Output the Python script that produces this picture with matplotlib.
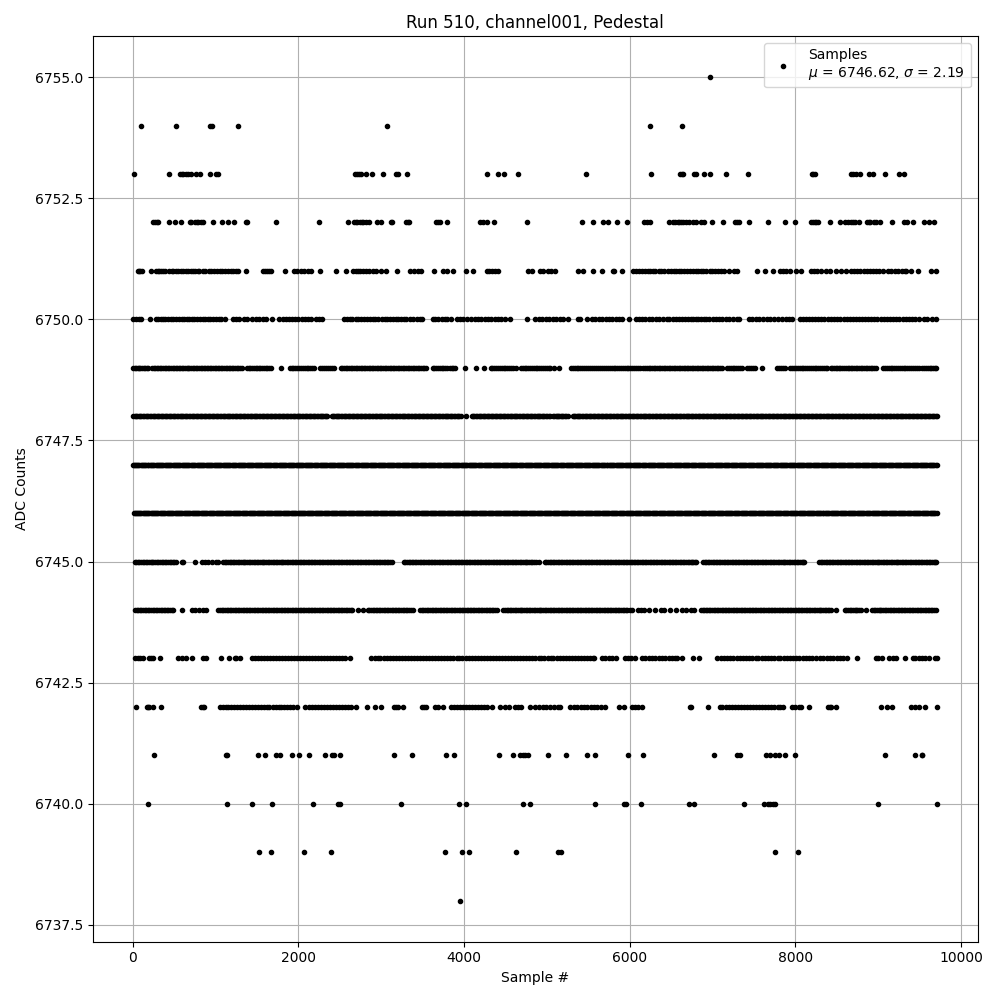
import matplotlib
matplotlib.use("Agg")
import matplotlib.pyplot as plt

s6755 = [6968]
s6754 = [97, 520, 927, 959, 1269, 3071, 6242, 6629]
s6753 = [12, 435, 570, 590, 612, 640, 665, 705, 758, 814, 927, 1000, 1028, 2680, 2705, 2732, 2761, 2813, 2894, 3023, 3176, 3204, 3307, 4280, 4413, 4485, 4654, 5468, 6254, 6609, 6630, 6649, 6780, 6805, 6895, 6968, 7161, 7427, 8200, 8218, 8233, 8676, 8700, 8730, 8777, 8889, 8938, 9083, 9252, 9317]
s6752 = [250, 270, 295, 306, 443, 508, 580, 690, 705, 746, 770, 786, 826, 854, 967, 1076, 1149, 1221, 1370, 1385, 1729, 2249, 2599, 2668, 2690, 2712, 2740, 2762, 2781, 2821, 2853, 2950, 3002, 3115, 3135, 3300, 3325, 3340, 3659, 3690, 3708, 3796, 4191, 4231, 4280, 4364, 4763, 5420, 5553, 5674, 5738, 5843, 5964, 6177, 6206, 6246, 6480, 6520, 6550, 6580, 6600, 6625, 6641, 6681, 6721, 6762, 6802, 6862, 6903, 6991, 7124, 7277, 7300, 7318, 7439, 7668, 7874, 7995, 8192, 8215, 8233, 8255, 8273, 8418, 8535, 8595, 8636, 8676, 8700, 8716, 8769, 8865, 8890, 8906, 8946, 8970, 9018, 9171, 9308, 9349, 9421, 9550, 9611, 9675]
s6751 = [60, 75, 89, 115, 218, 282, 305, 322, 345, 363, 395, 443, 470, 490, 525, 550, 585, 610, 645, 670, 700, 725, 755, 785, 805, 845, 875, 915, 945, 985, 1015, 1055, 1080, 1115, 1145, 1185, 1215, 1250, 1270, 1370, 1572, 1600, 1625, 1650, 1672, 1838, 1942, 1985, 2030, 2070, 2115, 2157, 2257, 2458, 2579, 2660, 2690, 2715, 2745, 2785, 2815, 2850, 2902, 2942, 3002, 3063, 3192, 3345, 3393, 3445, 3486, 3635, 3740, 3796, 3869, 4018, 4111, 4272, 4300, 4335, 4375, 4413, 4776, 4816, 4916, 4956, 5009, 5049, 5101, 5371, 5432, 5553, 5666, 5794, 5815, 5907, 6044, 6075, 6110, 6150, 6180, 6215, 6250, 6285, 6310, 6350, 6380, 6420, 6465, 6495, 6535, 6565, 6600, 6625, 6660, 6695, 6730, 6760, 6795, 6825, 6855, 6890, 6925, 6965, 6995, 7030, 7065, 7100, 7144, 7205, 7265, 7300, 7535, 7632, 7729, 7809, 7850, 7890, 7930, 8011, 8071, 8192, 8225, 8260, 8313, 8374, 8414, 8487, 8555, 8607, 8676, 8710, 8750, 8785, 8825, 8860, 8900, 8935, 8975, 9015, 9060, 9119, 9159, 9200, 9240, 9285, 9321, 9341, 9401, 9482, 9643, 9695]
s6750 = [5, 35, 70, 105, 205, 275, 300, 335, 370, 395, 430, 465, 490, 525, 555, 590, 620, 650, 680, 715, 745, 775, 810, 845, 870, 905, 935, 970, 1005, 1040, 1065, 1108, 1215, 1250, 1285, 1345, 1380, 1440, 1490, 1525, 1570, 1610, 1680, 1770, 1810, 1845, 1885, 1925, 1960, 2000, 2045, 2080, 2120, 2150, 2215, 2250, 2285, 2550, 2585, 2620, 2650, 2690, 2725, 2755, 2795, 2830, 2860, 2895, 2930, 2965, 3005, 3040, 3070, 3105, 3140, 3175, 3205, 3240, 3275, 3305, 3345, 3385, 3430, 3470, 3495, 3620, 3655, 3690, 3730, 3765, 3800, 3840, 3920, 3950, 3990, 4040, 4085, 4130, 4170, 4210, 4250, 4290, 4330, 4370, 4410, 4450, 4500, 4554, 4763, 4860, 4900, 4945, 4990, 5030, 5075, 5115, 5160, 5200, 5260, 5371, 5395, 5480, 5540, 5585, 5630, 5670, 5715, 5755, 5790, 5835, 5875, 5905, 5988, 6075, 6110, 6150, 6190, 6230, 6275, 6320, 6350, 6405, 6445, 6480, 6520, 6560, 6595, 6630, 6665, 6700, 6735, 6770, 6800, 6830, 6860, 6895, 6925, 6960, 7000, 7040, 7075, 7115, 7160, 7205, 7250, 7290, 7320, 7435, 7475, 7520, 7565, 7610, 7655, 7700, 7740, 7795, 7840, 7885, 7925, 7965, 8060, 8095, 8130, 8170, 8205, 8240, 8275, 8310, 8350, 8390, 8430, 8470, 8505, 8545, 8585, 8620, 8655, 8695, 8730, 8765, 8805, 8840, 8875, 8915, 8950, 8990, 9030, 9065, 9105, 9140, 9180, 9220, 9255, 9295, 9335, 9375, 9410, 9450, 9495, 9550, 9595, 9645, 9695]
s6749 = [5, 22, 40, 58, 75, 92, 110, 130, 150, 170, 190, 235, 252, 270, 290, 310, 328, 345, 365, 385, 402, 420, 440, 460, 480, 500, 518, 535, 555, 575, 592, 610, 630, 650, 668, 685, 705, 725, 742, 760, 780, 800, 818, 835, 855, 875, 892, 910, 930, 950, 970, 990, 1008, 1025, 1045, 1065, 1082, 1100, 1120, 1140, 1158, 1175, 1195, 1215, 1235, 1255, 1272, 1290, 1320, 1380, 1400, 1420, 1440, 1460, 1482, 1505, 1522, 1540, 1562, 1585, 1605, 1625, 1648, 1670, 1789, 1900, 1920, 1940, 1962, 1985, 2008, 2030, 2052, 2075, 2098, 2120, 2140, 2160, 2190, 2265, 2288, 2310, 2332, 2355, 2378, 2400, 2430, 2510, 2530, 2550, 2570, 2590, 2610, 2630, 2650, 2670, 2690, 2710, 2730, 2750, 2770, 2790, 2810, 2830, 2850, 2870, 2888, 2905, 2925, 2945, 2965, 2985, 3002, 3020, 3040, 3060, 3080, 3100, 3120, 3140, 3160, 3180, 3200, 3220, 3240, 3260, 3280, 3300, 3320, 3340, 3360, 3380, 3400, 3420, 3440, 3460, 3480, 3500, 3518, 3535, 3620, 3642, 3665, 3688, 3710, 3730, 3750, 3775, 3800, 3825, 3850, 3872, 3895, 4014, 4143, 4240, 4320, 4342, 4365, 4388, 4410, 4432, 4455, 4478, 4500, 4522, 4545, 4568, 4590, 4625, 4685, 4708, 4730, 4752, 4775, 4798, 4820, 4842, 4865, 4885, 4905, 4928, 4950, 4975, 5000, 5020, 5040, 5089, 5150, 5290, 5312, 5335, 5358, 5380, 5405, 5430, 5452, 5475, 5498, 5520, 5545, 5570, 5592, 5615, 5638, 5660, 5685, 5710, 5735, 5760, 5782, 5805, 5828, 5850, 5872, 5895, 5918, 5940, 5962, 5985, 6008, 6030, 6052, 6075, 6100, 6125, 6165, 6185, 6205, 6228, 6250, 6270, 6290, 6310, 6330, 6350, 6370, 6390, 6410, 6430, 6450, 6470, 6490, 6510, 6530, 6550, 6570, 6590, 6610, 6630, 6650, 6670, 6690, 6710, 6730, 6750, 6770, 6790, 6810, 6830, 6850, 6870, 6890, 6910, 6930, 6950, 6970, 6990, 7010, 7030, 7050, 7070, 7090, 7115, 7175, 7198, 7220, 7242, 7265, 7288, 7310, 7332, 7355, 7415, 7438, 7460, 7488, 7515, 7596, 7780, 7802, 7825, 7852, 7880, 7940, 7962, 7985, 8008, 8030, 8052, 8075, 8098, 8120, 8142, 8165, 8188, 8210, 8232, 8255, 8278, 8300, 8322, 8345, 8365, 8385, 8425, 8445, 8465, 8485, 8505, 8525, 8545, 8568, 8590, 8610, 8630, 8650, 8670, 8690, 8710, 8730, 8750, 8770, 8790, 8810, 8830, 8850, 8870, 8890, 8910, 8928, 8945, 8970, 9060, 9082, 9105, 9128, 9150, 9172, 9195, 9218, 9240, 9262, 9285, 9308, 9330, 9352, 9375, 9398, 9420, 9442, 9465, 9495, 9530, 9552, 9575, 9598, 9620, 9642, 9665, 9682, 9700]
s6748 = [5, 40, 70, 105, 140, 170, 205, 240, 270, 305, 335, 370, 400, 435, 465, 500, 530, 565, 595, 630, 660, 695, 725, 760, 790, 825, 855, 890, 920, 955, 985, 1020, 1050, 1085, 1115, 1150, 1180, 1215, 1245, 1280, 1310, 1345, 1375, 1410, 1440, 1475, 1505, 1540, 1570, 1605, 1635, 1670, 1700, 1735, 1765, 1800, 1830, 1865, 1895, 1930, 1960, 1995, 2025, 2060, 2090, 2125, 2155, 2190, 2220, 2255, 2285, 2320, 2350, 2400, 2430, 2465, 2495, 2530, 2560, 2595, 2625, 2660, 2690, 2725, 2755, 2790, 2820, 2855, 2885, 2920, 2950, 2985, 3015, 3050, 3080, 3115, 3145, 3180, 3210, 3245, 3275, 3310, 3340, 3375, 3405, 3440, 3470, 3505, 3535, 3570, 3600, 3635, 3665, 3700, 3730, 3765, 3795, 3830, 3860, 3895, 3925, 3960, 4020, 4095, 4125, 4160, 4190, 4225, 4255, 4290, 4320, 4355, 4385, 4420, 4450, 4485, 4515, 4550, 4580, 4615, 4645, 4680, 4710, 4745, 4775, 4810, 4840, 4875, 4905, 4940, 4970, 5005, 5035, 5075, 5105, 5135, 5165, 5200, 5230, 5255, 5310, 5340, 5375, 5405, 5440, 5470, 5505, 5535, 5570, 5600, 5635, 5665, 5700, 5730, 5765, 5795, 5830, 5860, 5895, 5925, 5960, 5990, 6025, 6055, 6090, 6120, 6155, 6185, 6220, 6250, 6285, 6315, 6350, 6380, 6415, 6445, 6480, 6510, 6545, 6575, 6610, 6640, 6675, 6705, 6740, 6770, 6805, 6835, 6870, 6900, 6935, 6965, 7000, 7030, 7065, 7095, 7130, 7160, 7195, 7225, 7260, 7290, 7325, 7355, 7390, 7420, 7455, 7485, 7520, 7550, 7585, 7615, 7650, 7680, 7715, 7745, 7780, 7810, 7845, 7875, 7910, 7940, 7975, 8005, 8040, 8070, 8105, 8135, 8170, 8200, 8235, 8265, 8300, 8330, 8365, 8395, 8430, 8460, 8495, 8525, 8560, 8590, 8625, 8655, 8690, 8720, 8755, 8785, 8820, 8850, 8885, 8915, 8950, 8980, 9015, 9045, 9080, 9110, 9145, 9175, 9210, 9240, 9275, 9305, 9340, 9370, 9405, 9435, 9470, 9500, 9535, 9565, 9600, 9630, 9665, 9695, 22, 55, 88, 122, 155, 188, 222, 255, 288, 320, 352, 385, 418, 450, 482, 515, 548, 580, 612, 645, 678, 710, 742, 775, 808, 840, 872, 905, 938, 970, 1002, 1035, 1068, 1100, 1132, 1165, 1198, 1230, 1262, 1295, 1328, 1360, 1392, 1425, 1458, 1490, 1522, 1555, 1588, 1620, 1652, 1685, 1718, 1750, 1782, 1815, 1848, 1880, 1912, 1945, 1978, 2010, 2042, 2075, 2108, 2140, 2172, 2205, 2238, 2270, 2302, 2335, 2415, 2448, 2480, 2512, 2545, 2578, 2610, 2642, 2675, 2708, 2740, 2772, 2805, 2838, 2870, 2902, 2935, 2968, 3000, 3032, 3065, 3098, 3130, 3162, 3195, 3228, 3260, 3292, 3325, 3358, 3390, 3422, 3455, 3488, 3520, 3552, 3585, 3618, 3650, 3682, 3715, 3748, 3780, 3812, 3845, 3878, 3910, 3942, 4110, 4142, 4175, 4208, 4240, 4272, 4305, 4338, 4370, 4402, 4435, 4468, 4500, 4532, 4565, 4598, 4630, 4662, 4695, 4728, 4760, 4792, 4825, 4858, 4890, 4922, 4955, 4988, 5020, 5090, 5120, 5150, 5182, 5215, 5325, 5358, 5390, 5422, 5455, 5488, 5520, 5552, 5585, 5618, 5650, 5682, 5715, 5748, 5780, 5812, 5845, 5878, 5910, 5942, 5975, 6008, 6040, 6072, 6105, 6138, 6170, 6202, 6235, 6268, 6300, 6332, 6365, 6398, 6430, 6462, 6495, 6528, 6560, 6592, 6625, 6658, 6690, 6722, 6755, 6788, 6820, 6852, 6885, 6918, 6950, 6982, 7015, 7048, 7080, 7112, 7145, 7178, 7210, 7242, 7275, 7308, 7340, 7372, 7405, 7438, 7470, 7502, 7535, 7568, 7600, 7632, 7665, 7698, 7730, 7762, 7795, 7828, 7860, 7892, 7925, 7958, 7990, 8022, 8055, 8088, 8120, 8152, 8185, 8218, 8250, 8282, 8315, 8348, 8380, 8412, 8445, 8478, 8510, 8542, 8575, 8608, 8640, 8672, 8705, 8738, 8770, 8802, 8835, 8868, 8900, 8932, 8965, 8998, 9030, 9062, 9095, 9128, 9160, 9192, 9225, 9258, 9290, 9322, 9355, 9388, 9420, 9452, 9485, 9518, 9550, 9582, 9615, 9648, 9680, 9705]
s6747 = [0, 25, 55, 80, 110, 135, 165, 190, 220, 245, 275, 300, 330, 355, 385, 410, 440, 465, 495, 520, 550, 575, 605, 630, 660, 685, 715, 740, 770, 795, 825, 850, 880, 905, 935, 960, 990, 1015, 1045, 1070, 1100, 1125, 1155, 1180, 1210, 1235, 1265, 1290, 1320, 1345, 1375, 1400, 1430, 1455, 1485, 1510, 1540, 1565, 1595, 1620, 1650, 1675, 1705, 1730, 1760, 1785, 1815, 1840, 1870, 1895, 1925, 1950, 1980, 2005, 2035, 2060, 2090, 2115, 2145, 2170, 2200, 2225, 2255, 2280, 2310, 2335, 2365, 2390, 2420, 2445, 2475, 2500, 2530, 2555, 2585, 2610, 2640, 2665, 2695, 2720, 2750, 2775, 2805, 2830, 2860, 2885, 2915, 2940, 2970, 2995, 3025, 3050, 3080, 3105, 3135, 3160, 3190, 3215, 3245, 3270, 3300, 3325, 3355, 3380, 3410, 3435, 3465, 3490, 3520, 3545, 3575, 3600, 3630, 3655, 3685, 3710, 3740, 3765, 3795, 3820, 3850, 3875, 3905, 3930, 3960, 3985, 4015, 4040, 4070, 4095, 4125, 4150, 4180, 4205, 4235, 4260, 4290, 4315, 4345, 4370, 4400, 4425, 4455, 4480, 4510, 4535, 4565, 4590, 4620, 4645, 4675, 4700, 4730, 4755, 4785, 4810, 4840, 4865, 4895, 4920, 4950, 4975, 5005, 5030, 5060, 5085, 5115, 5140, 5170, 5195, 5225, 5250, 5280, 5305, 5335, 5360, 5390, 5415, 5445, 5470, 5500, 5525, 5555, 5580, 5610, 5635, 5665, 5690, 5720, 5745, 5775, 5800, 5830, 5855, 5885, 5910, 5940, 5965, 5995, 6020, 6050, 6075, 6105, 6130, 6160, 6185, 6215, 6240, 6270, 6295, 6325, 6350, 6380, 6405, 6435, 6460, 6490, 6515, 6545, 6570, 6600, 6625, 6655, 6680, 6710, 6735, 6765, 6790, 6820, 6845, 6875, 6900, 6930, 6955, 6985, 7010, 7040, 7065, 7095, 7120, 7150, 7175, 7205, 7230, 7260, 7285, 7315, 7340, 7370, 7395, 7425, 7450, 7480, 7505, 7535, 7560, 7590, 7615, 7645, 7670, 7700, 7725, 7755, 7780, 7810, 7835, 7865, 7890, 7920, 7945, 7975, 8000, 8030, 8055, 8085, 8110, 8140, 8165, 8195, 8220, 8250, 8275, 8305, 8330, 8360, 8385, 8415, 8440, 8470, 8495, 8525, 8550, 8580, 8605, 8635, 8660, 8690, 8715, 8745, 8770, 8800, 8825, 8855, 8880, 8910, 8935, 8965, 8990, 9020, 9045, 9075, 9100, 9130, 9155, 9185, 9210, 9240, 9265, 9295, 9320, 9350, 9375, 9405, 9430, 9460, 9485, 9515, 9540, 9570, 9595, 9625, 9650, 9680, 9710, 12, 40, 68, 95, 122, 150, 178, 205, 232, 260, 288, 315, 342, 370, 398, 425, 452, 480, 508, 535, 562, 590, 618, 645, 672, 700, 728, 755, 782, 810, 838, 865, 892, 920, 948, 975, 1002, 1030, 1058, 1085, 1112, 1140, 1168, 1195, 1222, 1250, 1278, 1305, 1332, 1360, 1388, 1415, 1442, 1470, 1498, 1525, 1552, 1580, 1608, 1635, 1662, 1690, 1718, 1745, 1772, 1800, 1828, 1855, 1882, 1910, 1938, 1965, 1992, 2020, 2048, 2075, 2102, 2130, 2158, 2185, 2212, 2240, 2268, 2295, 2322, 2350, 2378, 2405, 2432, 2460, 2488, 2515, 2542, 2570, 2598, 2625, 2652, 2680, 2708, 2735, 2762, 2790, 2818, 2845, 2872, 2900, 2928, 2955, 2982, 3010, 3038, 3065, 3092, 3120, 3148, 3175, 3202, 3230, 3258, 3285, 3312, 3340, 3368, 3395, 3422, 3450, 3478, 3505, 3532, 3560, 3588, 3615, 3642, 3670, 3698, 3725, 3752, 3780, 3808, 3835, 3862, 3890, 3918, 3945, 3972, 4000, 4028, 4055, 4082, 4110, 4138, 4165, 4192, 4220, 4248, 4275, 4302, 4330, 4358, 4385, 4412, 4440, 4468, 4495, 4522, 4550, 4578, 4605, 4632, 4660, 4688, 4715, 4742, 4770, 4798, 4825, 4852, 4880, 4908, 4935, 4962, 4990, 5018, 5045, 5072, 5100, 5128, 5155, 5182, 5210, 5238, 5265, 5292, 5320, 5348, 5375, 5402, 5430, 5458, 5485, 5512, 5540, 5568, 5595, 5622, 5650, 5678, 5705, 5732, 5760, 5788, 5815, 5842, 5870, 5898, 5925, 5952, 5980, 6008, 6035, 6062, 6090, 6118, 6145, 6172, 6200, 6228, 6255, 6282, 6310, 6338, 6365, 6392, 6420, 6448, 6475, 6502, 6530, 6558, 6585, 6612, 6640, 6668, 6695, 6722, 6750, 6778, 6805, 6832, 6860, 6888, 6915, 6942, 6970, 6998, 7025, 7052, 7080, 7108, 7135, 7162, 7190, 7218, 7245, 7272, 7300, 7328, 7355, 7382, 7410, 7438, 7465, 7492, 7520, 7548, 7575, 7602, 7630, 7658, 7685, 7712, 7740, 7768, 7795, 7822, 7850, 7878, 7905, 7932, 7960, 7988, 8015, 8042, 8070, 8098, 8125, 8152, 8180, 8208, 8235, 8262, 8290, 8318, 8345, 8372, 8400, 8428, 8455, 8482, 8510, 8538, 8565, 8592, 8620, 8648, 8675, 8702, 8730, 8758, 8785, 8812, 8840, 8868, 8895, 8922, 8950, 8978, 9005, 9032, 9060, 9088, 9115, 9142, 9170, 9198, 9225, 9252, 9280, 9308, 9335, 9362, 9390, 9418, 9445, 9472, 9500, 9528, 9555, 9582, 9610, 9638, 9665, 9695]
s6746 = [10, 35, 65, 90, 120, 145, 175, 200, 230, 255, 285, 310, 340, 365, 395, 420, 450, 475, 505, 530, 560, 585, 615, 640, 670, 695, 725, 750, 780, 805, 835, 860, 890, 915, 945, 970, 1000, 1025, 1055, 1080, 1110, 1135, 1165, 1190, 1220, 1245, 1275, 1300, 1330, 1355, 1385, 1410, 1440, 1465, 1495, 1520, 1550, 1575, 1605, 1630, 1660, 1685, 1715, 1740, 1770, 1795, 1825, 1850, 1880, 1905, 1935, 1960, 1990, 2015, 2045, 2070, 2100, 2125, 2155, 2180, 2210, 2235, 2265, 2290, 2320, 2345, 2375, 2400, 2430, 2455, 2485, 2510, 2540, 2565, 2595, 2620, 2650, 2675, 2705, 2730, 2760, 2785, 2815, 2840, 2870, 2895, 2925, 2950, 2980, 3005, 3035, 3060, 3090, 3115, 3145, 3170, 3200, 3225, 3255, 3280, 3310, 3335, 3365, 3390, 3420, 3445, 3475, 3500, 3530, 3555, 3585, 3610, 3640, 3665, 3695, 3720, 3750, 3775, 3805, 3830, 3860, 3885, 3915, 3940, 3970, 3995, 4025, 4050, 4080, 4105, 4135, 4160, 4190, 4215, 4245, 4270, 4300, 4325, 4355, 4380, 4410, 4435, 4465, 4490, 4520, 4545, 4575, 4600, 4630, 4655, 4685, 4710, 4740, 4765, 4795, 4820, 4850, 4875, 4905, 4930, 4960, 4985, 5015, 5040, 5070, 5095, 5125, 5150, 5180, 5205, 5235, 5260, 5290, 5315, 5345, 5370, 5400, 5425, 5455, 5480, 5510, 5535, 5565, 5590, 5620, 5645, 5675, 5700, 5730, 5755, 5785, 5810, 5840, 5865, 5895, 5920, 5950, 5975, 6005, 6030, 6060, 6085, 6115, 6140, 6170, 6195, 6225, 6250, 6280, 6305, 6335, 6360, 6390, 6415, 6445, 6470, 6500, 6525, 6555, 6580, 6610, 6635, 6665, 6690, 6720, 6745, 6775, 6800, 6830, 6855, 6885, 6910, 6940, 6965, 6995, 7020, 7050, 7075, 7105, 7130, 7160, 7185, 7215, 7240, 7270, 7295, 7325, 7350, 7380, 7405, 7435, 7460, 7490, 7515, 7545, 7570, 7600, 7625, 7655, 7680, 7710, 7735, 7765, 7790, 7820, 7845, 7875, 7900, 7930, 7955, 7985, 8010, 8040, 8065, 8095, 8120, 8150, 8175, 8205, 8230, 8260, 8285, 8315, 8340, 8370, 8395, 8425, 8450, 8480, 8505, 8535, 8560, 8590, 8615, 8645, 8670, 8700, 8725, 8755, 8780, 8810, 8835, 8865, 8890, 8920, 8945, 8975, 9000, 9030, 9055, 9085, 9110, 9140, 9165, 9195, 9220, 9250, 9275, 9305, 9330, 9360, 9385, 9415, 9440, 9470, 9495, 9525, 9550, 9580, 9605, 9635, 9660, 9690, 9705, 22, 50, 78, 105, 132, 160, 188, 215, 242, 270, 298, 325, 352, 380, 408, 435, 462, 490, 518, 545, 572, 600, 628, 655, 682, 710, 738, 765, 792, 820, 848, 875, 902, 930, 958, 985, 1012, 1040, 1068, 1095, 1122, 1150, 1178, 1205, 1232, 1260, 1288, 1315, 1342, 1370, 1398, 1425, 1452, 1480, 1508, 1535, 1562, 1590, 1618, 1645, 1672, 1700, 1728, 1755, 1782, 1810, 1838, 1865, 1892, 1920, 1948, 1975, 2002, 2030, 2058, 2085, 2112, 2140, 2168, 2195, 2222, 2250, 2278, 2305, 2332, 2360, 2388, 2415, 2442, 2470, 2498, 2525, 2552, 2580, 2608, 2635, 2662, 2690, 2718, 2745, 2772, 2800, 2828, 2855, 2882, 2910, 2938, 2965, 2992, 3020, 3048, 3075, 3102, 3130, 3158, 3185, 3212, 3240, 3268, 3295, 3322, 3350, 3378, 3405, 3432, 3460, 3488, 3515, 3542, 3570, 3598, 3625, 3652, 3680, 3708, 3735, 3762, 3790, 3818, 3845, 3872, 3900, 3928, 3955, 3982, 4010, 4038, 4065, 4092, 4120, 4148, 4175, 4202, 4230, 4258, 4285, 4312, 4340, 4368, 4395, 4422, 4450, 4478, 4505, 4532, 4560, 4588, 4615, 4642, 4670, 4698, 4725, 4752, 4780, 4808, 4835, 4862, 4890, 4918, 4945, 4972, 5000, 5028, 5055, 5082, 5110, 5138, 5165, 5192, 5220, 5248, 5275, 5302, 5330, 5358, 5385, 5412, 5440, 5468, 5495, 5522, 5550, 5578, 5605, 5632, 5660, 5688, 5715, 5742, 5770, 5798, 5825, 5852, 5880, 5908, 5935, 5962, 5990, 6018, 6045, 6072, 6100, 6128, 6155, 6182, 6210, 6238, 6265, 6292, 6320, 6348, 6375, 6402, 6430, 6458, 6485, 6512, 6540, 6568, 6595, 6622, 6650, 6678, 6705, 6732, 6760, 6788, 6815, 6842, 6870, 6898, 6925, 6952, 6980, 7008, 7035, 7062, 7090, 7118, 7145, 7172, 7200, 7228, 7255, 7282, 7310, 7338, 7365, 7392, 7420, 7448, 7475, 7502, 7530, 7558, 7585, 7612, 7640, 7668, 7695, 7722, 7750, 7778, 7805, 7832, 7860, 7888, 7915, 7942, 7970, 7998, 8025, 8052, 8080, 8108, 8135, 8162, 8190, 8218, 8245, 8272, 8300, 8328, 8355, 8382, 8410, 8438, 8465, 8492, 8520, 8548, 8575, 8602, 8630, 8658, 8685, 8712, 8740, 8768, 8795, 8822, 8850, 8878, 8905, 8932, 8960, 8988, 9015, 9042, 9070, 9098, 9125, 9152, 9180, 9208, 9235, 9262, 9290, 9318, 9345, 9372, 9400, 9428, 9455, 9482, 9510, 9538, 9565, 9592, 9620, 9648, 9675]
s6745 = [22, 60, 100, 135, 175, 215, 250, 290, 330, 365, 405, 445, 480, 520, 590, 610, 750, 830, 870, 910, 960, 1005, 1035, 1095, 1130, 1170, 1210, 1245, 1285, 1325, 1360, 1400, 1440, 1475, 1515, 1555, 1590, 1630, 1670, 1705, 1745, 1785, 1820, 1860, 1900, 1935, 1975, 2015, 2050, 2090, 2130, 2165, 2205, 2245, 2280, 2320, 2360, 2395, 2435, 2475, 2510, 2550, 2590, 2625, 2665, 2705, 2740, 2780, 2820, 2855, 2895, 2935, 2970, 3010, 3050, 3085, 3135, 3272, 3310, 3350, 3385, 3425, 3465, 3500, 3540, 3580, 3615, 3655, 3695, 3730, 3770, 3810, 3845, 3885, 3925, 3960, 4000, 4040, 4075, 4115, 4155, 4190, 4230, 4270, 4305, 4345, 4385, 4420, 4460, 4500, 4535, 4575, 4615, 4650, 4690, 4730, 4765, 4805, 4840, 4900, 4975, 5015, 5050, 5090, 5130, 5165, 5205, 5245, 5280, 5320, 5360, 5395, 5435, 5475, 5510, 5550, 5590, 5625, 5665, 5705, 5740, 5780, 5820, 5855, 5895, 5935, 5970, 6010, 6050, 6085, 6125, 6165, 6200, 6240, 6280, 6315, 6355, 6395, 6430, 6470, 6510, 6545, 6585, 6625, 6660, 6700, 6740, 6770, 6805, 6885, 6925, 6960, 7000, 7040, 7075, 7115, 7155, 7190, 7230, 7270, 7305, 7345, 7385, 7420, 7460, 7500, 7535, 7575, 7615, 7650, 7690, 7730, 7765, 7805, 7845, 7880, 7920, 7960, 7995, 8035, 8075, 8105, 8288, 8325, 8365, 8405, 8440, 8480, 8520, 8555, 8595, 8635, 8670, 8710, 8750, 8785, 8825, 8865, 8900, 8940, 8980, 9015, 9055, 9095, 9130, 9170, 9210, 9245, 9285, 9325, 9360, 9400, 9440, 9475, 9515, 9555, 9590, 9630, 9670, 9700, 42, 80, 118, 155, 195, 232, 270, 310, 348, 385, 425, 462, 500, 1112, 1150, 1190, 1228, 1265, 1305, 1342, 1380, 1420, 1458, 1495, 1535, 1572, 1610, 1650, 1688, 1725, 1765, 1802, 1840, 1880, 1918, 1955, 1995, 2032, 2070, 2110, 2148, 2185, 2225, 2262, 2300, 2340, 2378, 2415, 2455, 2492, 2530, 2570, 2608, 2645, 2685, 2722, 2760, 2800, 2838, 2875, 2915, 2952, 2990, 3030, 3068, 3110, 3290, 3330, 3368, 3405, 3445, 3482, 3520, 3560, 3598, 3635, 3675, 3712, 3750, 3790, 3828, 3865, 3905, 3942, 3980, 4020, 4058, 4095, 4135, 4172, 4210, 4250, 4288, 4325, 4365, 4402, 4440, 4480, 4518, 4555, 4595, 4632, 4670, 4710, 4748, 4785, 4825, 4870, 4995, 5032, 5070, 5110, 5148, 5185, 5225, 5262, 5300, 5340, 5378, 5415, 5455, 5492, 5530, 5570, 5608, 5645, 5685, 5722, 5760, 5800, 5838, 5875, 5915, 5952, 5990, 6030, 6068, 6105, 6145, 6182, 6220, 6260, 6298, 6335, 6375, 6412, 6450, 6490, 6528, 6565, 6605, 6642, 6680, 6720, 6755, 6785, 6905, 6942, 6980, 7020, 7058, 7095, 7135, 7172, 7210, 7250, 7288, 7325, 7365, 7402, 7440, 7480, 7518, 7555, 7595, 7632, 7670, 7710, 7748, 7785, 7825, 7862, 7900, 7940, 7978, 8015, 8055, 8090, 8305, 8345, 8385, 8422, 8460, 8500, 8538, 8575, 8615, 8652, 8690, 8730, 8768, 8805, 8845, 8882, 8920, 8960, 8998, 9035, 9075, 9112, 9150, 9190, 9228, 9265, 9305, 9342, 9380, 9420, 9458, 9495, 9535, 9572, 9610, 9650, 9685]
s6744 = [30, 65, 105, 145, 180, 220, 260, 295, 335, 375, 410, 450, 490, 596, 715, 750, 800, 845, 885, 1035, 1075, 1115, 1150, 1190, 1230, 1265, 1305, 1345, 1380, 1420, 1460, 1495, 1535, 1575, 1610, 1650, 1690, 1725, 1765, 1805, 1840, 1880, 1920, 1955, 1995, 2035, 2070, 2110, 2150, 2185, 2225, 2265, 2300, 2340, 2380, 2415, 2455, 2495, 2530, 2570, 2610, 2650, 2720, 2781, 2835, 2875, 2915, 2950, 2990, 3030, 3065, 3105, 3145, 3180, 3220, 3260, 3295, 3335, 3380, 3470, 3510, 3550, 3590, 3625, 3665, 3705, 3740, 3780, 3820, 3855, 3895, 3935, 3970, 4010, 4050, 4085, 4125, 4165, 4200, 4240, 4280, 4315, 4355, 4400, 4475, 4515, 4555, 4590, 4630, 4670, 4705, 4745, 4785, 4820, 4860, 4900, 4935, 4975, 5015, 5050, 5090, 5130, 5165, 5205, 5245, 5280, 5320, 5360, 5395, 5435, 5475, 5510, 5550, 5590, 5625, 5665, 5705, 5740, 5780, 5820, 5855, 5895, 5935, 5970, 6030, 6095, 6135, 6175, 6235, 6302, 6375, 6420, 6488, 6560, 6630, 6680, 6740, 6780, 6860, 6900, 6935, 6975, 7015, 7050, 7090, 7130, 7165, 7205, 7245, 7280, 7320, 7360, 7395, 7435, 7475, 7510, 7550, 7590, 7625, 7665, 7705, 7740, 7780, 7820, 7855, 7895, 7935, 7970, 8010, 8050, 8085, 8125, 8165, 8200, 8240, 8280, 8315, 8355, 8395, 8430, 8490, 8595, 8635, 8675, 8715, 8750, 8790, 8855, 8925, 8965, 9005, 9040, 9080, 9120, 9155, 9195, 9235, 9270, 9310, 9350, 9385, 9425, 9465, 9500, 9540, 9580, 9615, 9655, 9695, 48, 85, 125, 162, 200, 240, 278, 315, 355, 392, 430, 470, 1055, 1095, 1132, 1170, 1210, 1248, 1285, 1325, 1362, 1400, 1440, 1478, 1515, 1555, 1592, 1630, 1670, 1708, 1745, 1785, 1822, 1860, 1900, 1938, 1975, 2015, 2052, 2090, 2130, 2168, 2205, 2245, 2282, 2320, 2360, 2398, 2435, 2475, 2512, 2550, 2590, 2630, 2855, 2895, 2932, 2970, 3010, 3048, 3085, 3125, 3162, 3200, 3240, 3278, 3315, 3355, 3490, 3530, 3570, 3608, 3645, 3685, 3722, 3760, 3800, 3838, 3875, 3915, 3952, 3990, 4030, 4068, 4105, 4145, 4182, 4220, 4260, 4298, 4335, 4378, 4495, 4535, 4572, 4610, 4650, 4688, 4725, 4765, 4802, 4840, 4880, 4918, 4955, 4995, 5032, 5070, 5110, 5148, 5185, 5225, 5262, 5300, 5340, 5378, 5415, 5455, 5492, 5530, 5570, 5608, 5645, 5685, 5722, 5760, 5800, 5838, 5875, 5915, 5952, 6000, 6880, 6918, 6955, 6995, 7032, 7070, 7110, 7148, 7185, 7225, 7262, 7300, 7340, 7378, 7415, 7455, 7492, 7530, 7570, 7608, 7645, 7685, 7722, 7760, 7800, 7838, 7875, 7915, 7952, 7990, 8030, 8068, 8105, 8145, 8182, 8220, 8260, 8298, 8335, 8375, 8412, 8615, 8655, 8695, 8732, 8770, 8945, 8985, 9022, 9060, 9100, 9138, 9175, 9215, 9252, 9290, 9330, 9368, 9405, 9445, 9482, 9520, 9560, 9598, 9635, 9675]
s6743 = [28, 60, 85, 121, 193, 225, 242, 330, 552, 596, 645, 713, 846, 879, 1060, 1160, 1230, 1249, 1290, 1435, 1475, 1510, 1545, 1580, 1620, 1655, 1690, 1725, 1765, 1800, 1835, 1870, 1910, 1945, 1980, 2015, 2055, 2090, 2125, 2160, 2200, 2235, 2270, 2305, 2345, 2380, 2415, 2450, 2490, 2525, 2560, 2628, 2880, 2920, 2955, 2990, 3030, 3065, 3100, 3140, 3175, 3210, 3250, 3285, 3320, 3360, 3395, 3430, 3470, 3505, 3540, 3580, 3615, 3650, 3690, 3725, 3760, 3800, 3835, 3870, 3910, 3945, 3980, 4020, 4055, 4090, 4130, 4165, 4200, 4240, 4275, 4310, 4350, 4385, 4420, 4460, 4495, 4530, 4570, 4605, 4640, 4680, 4715, 4750, 4790, 4825, 4860, 4900, 4935, 4970, 5010, 5045, 5080, 5120, 5155, 5190, 5230, 5265, 5300, 5340, 5375, 5410, 5450, 5485, 5520, 5560, 5575, 5665, 5705, 5745, 5785, 5835, 5940, 5975, 6015, 6060, 6150, 6190, 6230, 6270, 6310, 6350, 6390, 6430, 6470, 6510, 6550, 6575, 6629, 6770, 6842, 7060, 7100, 7140, 7175, 7215, 7250, 7290, 7330, 7365, 7405, 7440, 7480, 7520, 7555, 7595, 7630, 7670, 7710, 7745, 7785, 7820, 7860, 7900, 7935, 7975, 8010, 8050, 8090, 8125, 8165, 8205, 8250, 8300, 8340, 8380, 8420, 8460, 8500, 8540, 8580, 8625, 8744, 8975, 9000, 9045, 9135, 9175, 9215, 9325, 9415, 9450, 9490, 9530, 9570, 9610, 9683, 9710]
s6742 = [36, 169, 190, 201, 242, 339, 826, 850, 866, 1050, 1085, 1120, 1155, 1190, 1225, 1260, 1295, 1330, 1365, 1400, 1440, 1475, 1510, 1545, 1580, 1615, 1650, 1690, 1725, 1760, 1795, 1830, 1865, 1900, 1940, 1980, 2085, 2125, 2160, 2195, 2235, 2270, 2305, 2340, 2380, 2415, 2450, 2490, 2525, 2560, 2600, 2640, 2690, 2829, 2926, 3002, 3151, 3175, 3204, 3264, 3498, 3520, 3546, 3647, 3687, 3748, 3840, 3875, 3910, 3950, 3985, 4020, 4060, 4095, 4130, 4170, 4205, 4240, 4280, 4340, 4433, 4493, 4546, 4614, 4650, 4690, 4796, 4856, 4905, 4950, 4990, 5040, 5090, 5135, 5160, 5285, 5325, 5365, 5410, 5450, 5490, 5530, 5570, 5610, 5650, 5700, 5867, 5936, 6030, 6065, 6100, 6150, 6725, 6741, 6943, 7085, 7120, 7160, 7195, 7230, 7270, 7305, 7340, 7380, 7415, 7450, 7490, 7525, 7560, 7600, 7635, 7670, 7710, 7745, 7785, 7820, 7845, 7960, 8000, 8040, 8065, 8164, 8394, 8415, 8434, 8487, 9035, 9107, 9171, 9401, 9441, 9494, 9570, 9716]
s6741 = [254, 1120, 1140, 1511, 1596, 1733, 1773, 1922, 2007, 2128, 2321, 2402, 2426, 2507, 3155, 3373, 3784, 3881, 4425, 4594, 4675, 4707, 4735, 4775, 5009, 5226, 5480, 5577, 5976, 6157, 7016, 7298, 7334, 7648, 7689, 7749, 7797, 7874, 7995, 9083, 9446, 9525, 9535]
s6740 = [181, 1136, 1439, 1681, 2176, 2478, 2507, 3240, 3941, 4018, 4715, 4800, 5577, 5936, 5960, 6133, 6721, 6778, 7378, 7616, 7668, 7695, 7725, 7749, 8998, 9710]
s6739 = [1523, 1668, 2067, 2394, 3772, 3978, 4062, 4630, 5138, 5170, 7753, 8031]
s6738 = [3953]

levels = [6755, 6754, 6753, 6752, 6751, 6750, 6749, 6748, 6747, 6746, 6745, 6744, 6743, 6742, 6741, 6740, 6739, 6738]
samples = [s6755, s6754, s6753, s6752, s6751, s6750, s6749, s6748, s6747, s6746, s6745, s6744, s6743, s6742, s6741, s6740, s6739, s6738]

x_values = []
y_values = []
for level, xs in zip(levels, samples):
    x_values += xs
    y_values += [level] * len(xs)

fig, ax = plt.subplots(figsize=(10, 10), dpi=100)
ax.plot(x_values, y_values, "k.", label="Samples\n$\\mu$ = 6746.62, $\\sigma$ = 2.19")
ax.set_title("Run 510, channel001, Pedestal")
ax.set_xlabel("Sample #")
ax.set_ylabel("ADC Counts")
ax.grid(True)
ax.legend(loc="upper right")
fig.tight_layout()
fig.subplots_adjust(top=0.964)
fig.savefig("out.png", dpi=100)
